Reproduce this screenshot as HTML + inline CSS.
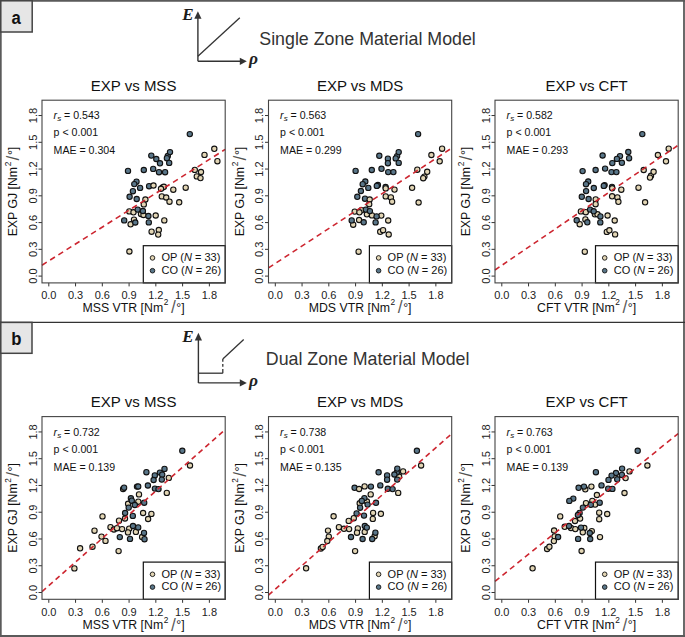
<!DOCTYPE html><html><head><meta charset="utf-8"><style>
html,body{margin:0;padding:0;background:#fff;}
svg{display:block;font-family:"Liberation Sans",sans-serif;}
.t{font-size:15px;fill:#111;}
.al{font-size:12.3px;fill:#111;}
.tk{font-size:11px;fill:#222;}
.st{font-size:10.6px;fill:#111;}
.lg{font-size:11px;fill:#111;}
.hd{font-size:17.8px;fill:#333;}
</style></head><body>
<svg width="685" height="637" viewBox="0 0 685 637">
<rect x="0" y="0" width="685" height="637" fill="#fff"/>
<text class="t" x="133.6" y="90.9" text-anchor="middle">EXP vs MSS</text>
<text class="al" transform="translate(17.4,191.55) rotate(-90)" text-anchor="middle">EXP GJ [Nm<tspan dy="-6.4" dx="0.6" font-size="8.3">2</tspan><tspan dy="6.4"> </tspan><tspan font-size="17.5" dy="1.7" dx="-2.2" fill-opacity="0.72">/</tspan><tspan dy="-1.7" dx="0.5">°]</tspan></text>
<text class="al" x="133.6" y="311.7" text-anchor="middle">MSS VTR [Nm<tspan dy="-6.4" dx="0.6" font-size="8.3">2</tspan><tspan dy="6.4"> </tspan><tspan font-size="17.5" dy="1.7" dx="-0.9" fill-opacity="0.72">/</tspan><tspan dy="-1.7" dx="0.5">°]</tspan></text>
<path d="M48.8 282.9V286.4M42 276.1H38.5M75.56 282.9V286.4M42 249.34H38.5M102.32 282.9V286.4M42 222.58H38.5M129.08 282.9V286.4M42 195.82H38.5M155.84 282.9V286.4M42 169.06H38.5M182.6 282.9V286.4M42 142.3H38.5M209.36 282.9V286.4M42 115.54H38.5" stroke="#333" stroke-width="1" fill="none"/>
<text class="tk" x="48.8" y="298.8" text-anchor="middle">0.0</text>
<text class="tk" transform="translate(36.9,276.1) rotate(-90)" text-anchor="middle">0.0</text>
<text class="tk" x="75.56" y="298.8" text-anchor="middle">0.3</text>
<text class="tk" transform="translate(36.9,249.34) rotate(-90)" text-anchor="middle">0.3</text>
<text class="tk" x="102.32" y="298.8" text-anchor="middle">0.6</text>
<text class="tk" transform="translate(36.9,222.58) rotate(-90)" text-anchor="middle">0.6</text>
<text class="tk" x="129.08" y="298.8" text-anchor="middle">0.9</text>
<text class="tk" transform="translate(36.9,195.82) rotate(-90)" text-anchor="middle">0.9</text>
<text class="tk" x="155.84" y="298.8" text-anchor="middle">1.2</text>
<text class="tk" transform="translate(36.9,169.06) rotate(-90)" text-anchor="middle">1.2</text>
<text class="tk" x="182.6" y="298.8" text-anchor="middle">1.5</text>
<text class="tk" transform="translate(36.9,142.3) rotate(-90)" text-anchor="middle">1.5</text>
<text class="tk" x="209.36" y="298.8" text-anchor="middle">1.8</text>
<text class="tk" transform="translate(36.9,115.54) rotate(-90)" text-anchor="middle">1.8</text>
<circle cx="167.8" cy="156" r="2.65" fill="#597689" stroke="#111" stroke-width="1.1"/>
<circle cx="162.5" cy="187.5" r="2.65" fill="#e2d5b4" stroke="#111" stroke-width="1.1"/>
<circle cx="141" cy="214" r="2.65" fill="#e2d5b4" stroke="#111" stroke-width="1.1"/>
<circle cx="143.5" cy="215" r="2.65" fill="#e2d5b4" stroke="#111" stroke-width="1.1"/>
<circle cx="134" cy="219.6" r="2.65" fill="#e2d5b4" stroke="#111" stroke-width="1.1"/>
<circle cx="151.3" cy="155.6" r="2.65" fill="#597689" stroke="#111" stroke-width="1.1"/>
<circle cx="156.3" cy="159" r="2.65" fill="#597689" stroke="#111" stroke-width="1.1"/>
<circle cx="160" cy="163.3" r="2.65" fill="#597689" stroke="#111" stroke-width="1.1"/>
<circle cx="170" cy="152.1" r="2.65" fill="#597689" stroke="#111" stroke-width="1.1"/>
<circle cx="166.9" cy="158.2" r="2.65" fill="#597689" stroke="#111" stroke-width="1.1"/>
<circle cx="169.2" cy="162.9" r="2.65" fill="#597689" stroke="#111" stroke-width="1.1"/>
<circle cx="128" cy="170.9" r="2.65" fill="#597689" stroke="#111" stroke-width="1.1"/>
<circle cx="143.8" cy="170" r="2.65" fill="#597689" stroke="#111" stroke-width="1.1"/>
<circle cx="153.2" cy="168.9" r="2.65" fill="#597689" stroke="#111" stroke-width="1.1"/>
<circle cx="159" cy="172.2" r="2.65" fill="#597689" stroke="#111" stroke-width="1.1"/>
<circle cx="165.1" cy="172.2" r="2.65" fill="#597689" stroke="#111" stroke-width="1.1"/>
<circle cx="136.5" cy="181.7" r="2.65" fill="#597689" stroke="#111" stroke-width="1.1"/>
<circle cx="134.3" cy="184.1" r="2.65" fill="#597689" stroke="#111" stroke-width="1.1"/>
<circle cx="140.1" cy="187.9" r="2.65" fill="#597689" stroke="#111" stroke-width="1.1"/>
<circle cx="149.1" cy="186.2" r="2.65" fill="#597689" stroke="#111" stroke-width="1.1"/>
<circle cx="132.9" cy="191.2" r="2.65" fill="#597689" stroke="#111" stroke-width="1.1"/>
<circle cx="129.6" cy="196.8" r="2.65" fill="#597689" stroke="#111" stroke-width="1.1"/>
<circle cx="136.7" cy="199" r="2.65" fill="#597689" stroke="#111" stroke-width="1.1"/>
<circle cx="189.8" cy="134.1" r="2.65" fill="#597689" stroke="#111" stroke-width="1.1"/>
<circle cx="153.5" cy="185.5" r="2.65" fill="#e2d5b4" stroke="#111" stroke-width="1.1"/>
<circle cx="163.9" cy="186.8" r="2.65" fill="#e2d5b4" stroke="#111" stroke-width="1.1"/>
<circle cx="161" cy="188.8" r="2.65" fill="#e2d5b4" stroke="#111" stroke-width="1.1"/>
<circle cx="161.8" cy="196.4" r="2.65" fill="#e2d5b4" stroke="#111" stroke-width="1.1"/>
<circle cx="166.2" cy="197.5" r="2.65" fill="#e2d5b4" stroke="#111" stroke-width="1.1"/>
<circle cx="169.5" cy="201.7" r="2.65" fill="#e2d5b4" stroke="#111" stroke-width="1.1"/>
<circle cx="145.4" cy="199.5" r="2.65" fill="#e2d5b4" stroke="#111" stroke-width="1.1"/>
<circle cx="143.8" cy="204.4" r="2.65" fill="#e2d5b4" stroke="#111" stroke-width="1.1"/>
<circle cx="173.3" cy="189.7" r="2.65" fill="#e2d5b4" stroke="#111" stroke-width="1.1"/>
<circle cx="214.3" cy="148.8" r="2.65" fill="#e2d5b4" stroke="#111" stroke-width="1.1"/>
<circle cx="204.5" cy="154.9" r="2.65" fill="#e2d5b4" stroke="#111" stroke-width="1.1"/>
<circle cx="217.4" cy="161.2" r="2.65" fill="#e2d5b4" stroke="#111" stroke-width="1.1"/>
<circle cx="194.8" cy="169.9" r="2.65" fill="#e2d5b4" stroke="#111" stroke-width="1.1"/>
<circle cx="201" cy="172" r="2.65" fill="#e2d5b4" stroke="#111" stroke-width="1.1"/>
<circle cx="196.8" cy="176.4" r="2.65" fill="#e2d5b4" stroke="#111" stroke-width="1.1"/>
<circle cx="200.5" cy="178.1" r="2.65" fill="#e2d5b4" stroke="#111" stroke-width="1.1"/>
<circle cx="129.3" cy="211.4" r="2.65" fill="#e2d5b4" stroke="#111" stroke-width="1.1"/>
<circle cx="133.5" cy="212.3" r="2.65" fill="#e2d5b4" stroke="#111" stroke-width="1.1"/>
<circle cx="155.7" cy="215.5" r="2.65" fill="#e2d5b4" stroke="#111" stroke-width="1.1"/>
<circle cx="130.6" cy="224.3" r="2.65" fill="#e2d5b4" stroke="#111" stroke-width="1.1"/>
<circle cx="164.3" cy="220.4" r="2.65" fill="#e2d5b4" stroke="#111" stroke-width="1.1"/>
<circle cx="151.6" cy="231.7" r="2.65" fill="#e2d5b4" stroke="#111" stroke-width="1.1"/>
<circle cx="158.8" cy="230" r="2.65" fill="#e2d5b4" stroke="#111" stroke-width="1.1"/>
<circle cx="158.2" cy="234.6" r="2.65" fill="#e2d5b4" stroke="#111" stroke-width="1.1"/>
<circle cx="129.4" cy="251.5" r="2.65" fill="#e2d5b4" stroke="#111" stroke-width="1.1"/>
<circle cx="185.7" cy="187.7" r="2.65" fill="#e2d5b4" stroke="#111" stroke-width="1.1"/>
<circle cx="179.2" cy="202.3" r="2.65" fill="#e2d5b4" stroke="#111" stroke-width="1.1"/>
<circle cx="137.7" cy="209.6" r="2.65" fill="#597689" stroke="#111" stroke-width="1.1"/>
<circle cx="142.9" cy="211" r="2.65" fill="#597689" stroke="#111" stroke-width="1.1"/>
<circle cx="148.4" cy="216" r="2.65" fill="#597689" stroke="#111" stroke-width="1.1"/>
<circle cx="124.2" cy="220.4" r="2.65" fill="#597689" stroke="#111" stroke-width="1.1"/>
<circle cx="135.3" cy="222.5" r="2.65" fill="#597689" stroke="#111" stroke-width="1.1"/>
<circle cx="148.8" cy="222.4" r="2.65" fill="#597689" stroke="#111" stroke-width="1.1"/>
<line x1="42" y1="265.2" x2="225.2" y2="149.4" stroke="#cd2630" stroke-width="1.6" stroke-dasharray="5.62 4.07"/>
<rect x="143.3" y="245.7" width="81.9" height="37.2" fill="#fff" stroke="#111" stroke-width="1.2"/>
<circle cx="152.5" cy="257.9" r="2.3" fill="#e2d5b4" stroke="#111" stroke-width="0.9"/>
<circle cx="152.5" cy="270.7" r="2.3" fill="#597689" stroke="#111" stroke-width="0.9"/>
<text class="lg" x="161.5" y="261.2">OP (<tspan font-style="italic">N</tspan> = 33)</text>
<text class="lg" x="161.5" y="273.7">CO (<tspan font-style="italic">N</tspan> = 26)</text>
<text class="st" x="53.6" y="118.7"><tspan font-style="italic">r</tspan><tspan font-style="italic" font-size="8" dy="2.3">s</tspan><tspan dy="-2.3"> = 0.543</tspan></text>
<text class="st" x="53.6" y="135.6">p &lt; 0.001</text>
<text class="st" x="53.6" y="154">MAE = 0.304</text>
<rect x="42" y="100.2" width="183.2" height="182.7" fill="none" stroke="#444" stroke-width="1.1"/>
<text class="t" x="360.1" y="90.9" text-anchor="middle">EXP vs MDS</text>
<text class="al" transform="translate(243.9,191.55) rotate(-90)" text-anchor="middle">EXP GJ [Nm<tspan dy="-6.4" dx="0.6" font-size="8.3">2</tspan><tspan dy="6.4"> </tspan><tspan font-size="17.5" dy="1.7" dx="-2.2" fill-opacity="0.72">/</tspan><tspan dy="-1.7" dx="0.5">°]</tspan></text>
<text class="al" x="360.1" y="311.7" text-anchor="middle">MDS VTR [Nm<tspan dy="-6.4" dx="0.6" font-size="8.3">2</tspan><tspan dy="6.4"> </tspan><tspan font-size="17.5" dy="1.7" dx="-0.9" fill-opacity="0.72">/</tspan><tspan dy="-1.7" dx="0.5">°]</tspan></text>
<path d="M275.3 282.9V286.4M268.5 276.1H265M302.06 282.9V286.4M268.5 249.34H265M328.82 282.9V286.4M268.5 222.58H265M355.58 282.9V286.4M268.5 195.82H265M382.34 282.9V286.4M268.5 169.06H265M409.1 282.9V286.4M268.5 142.3H265M435.86 282.9V286.4M268.5 115.54H265" stroke="#333" stroke-width="1" fill="none"/>
<text class="tk" x="275.3" y="298.8" text-anchor="middle">0.0</text>
<text class="tk" transform="translate(263.4,276.1) rotate(-90)" text-anchor="middle">0.0</text>
<text class="tk" x="302.06" y="298.8" text-anchor="middle">0.3</text>
<text class="tk" transform="translate(263.4,249.34) rotate(-90)" text-anchor="middle">0.3</text>
<text class="tk" x="328.82" y="298.8" text-anchor="middle">0.6</text>
<text class="tk" transform="translate(263.4,222.58) rotate(-90)" text-anchor="middle">0.6</text>
<text class="tk" x="355.58" y="298.8" text-anchor="middle">0.9</text>
<text class="tk" transform="translate(263.4,195.82) rotate(-90)" text-anchor="middle">0.9</text>
<text class="tk" x="382.34" y="298.8" text-anchor="middle">1.2</text>
<text class="tk" transform="translate(263.4,169.06) rotate(-90)" text-anchor="middle">1.2</text>
<text class="tk" x="409.1" y="298.8" text-anchor="middle">1.5</text>
<text class="tk" transform="translate(263.4,142.3) rotate(-90)" text-anchor="middle">1.5</text>
<text class="tk" x="435.86" y="298.8" text-anchor="middle">1.8</text>
<text class="tk" transform="translate(263.4,115.54) rotate(-90)" text-anchor="middle">1.8</text>
<circle cx="397.1" cy="156.1" r="2.65" fill="#597689" stroke="#111" stroke-width="1.1"/>
<circle cx="385.6" cy="187" r="2.65" fill="#597689" stroke="#111" stroke-width="1.1"/>
<circle cx="377.9" cy="185" r="2.65" fill="#597689" stroke="#111" stroke-width="1.1"/>
<circle cx="361.4" cy="210.2" r="2.65" fill="#e2d5b4" stroke="#111" stroke-width="1.1"/>
<circle cx="366.9" cy="214.3" r="2.65" fill="#e2d5b4" stroke="#111" stroke-width="1.1"/>
<circle cx="424.4" cy="176.6" r="2.65" fill="#e2d5b4" stroke="#111" stroke-width="1.1"/>
<circle cx="379.3" cy="155.8" r="2.65" fill="#597689" stroke="#111" stroke-width="1.1"/>
<circle cx="387.9" cy="158.7" r="2.65" fill="#597689" stroke="#111" stroke-width="1.1"/>
<circle cx="387.9" cy="163.2" r="2.65" fill="#597689" stroke="#111" stroke-width="1.1"/>
<circle cx="398.7" cy="152.1" r="2.65" fill="#597689" stroke="#111" stroke-width="1.1"/>
<circle cx="395.7" cy="158.4" r="2.65" fill="#597689" stroke="#111" stroke-width="1.1"/>
<circle cx="398.7" cy="162.9" r="2.65" fill="#597689" stroke="#111" stroke-width="1.1"/>
<circle cx="355.6" cy="170.9" r="2.65" fill="#597689" stroke="#111" stroke-width="1.1"/>
<circle cx="371.8" cy="170" r="2.65" fill="#597689" stroke="#111" stroke-width="1.1"/>
<circle cx="381.5" cy="168.8" r="2.65" fill="#597689" stroke="#111" stroke-width="1.1"/>
<circle cx="388.2" cy="172.1" r="2.65" fill="#597689" stroke="#111" stroke-width="1.1"/>
<circle cx="393.4" cy="172.1" r="2.65" fill="#597689" stroke="#111" stroke-width="1.1"/>
<circle cx="365.3" cy="181.5" r="2.65" fill="#597689" stroke="#111" stroke-width="1.1"/>
<circle cx="362.7" cy="184.2" r="2.65" fill="#597689" stroke="#111" stroke-width="1.1"/>
<circle cx="368.3" cy="187.9" r="2.65" fill="#597689" stroke="#111" stroke-width="1.1"/>
<circle cx="376.8" cy="185.9" r="2.65" fill="#597689" stroke="#111" stroke-width="1.1"/>
<circle cx="360.9" cy="191" r="2.65" fill="#597689" stroke="#111" stroke-width="1.1"/>
<circle cx="357.3" cy="196.8" r="2.65" fill="#597689" stroke="#111" stroke-width="1.1"/>
<circle cx="365" cy="198.7" r="2.65" fill="#597689" stroke="#111" stroke-width="1.1"/>
<circle cx="418.1" cy="134.1" r="2.65" fill="#597689" stroke="#111" stroke-width="1.1"/>
<circle cx="385.7" cy="188.4" r="2.65" fill="#e2d5b4" stroke="#111" stroke-width="1.1"/>
<circle cx="394.5" cy="189.6" r="2.65" fill="#e2d5b4" stroke="#111" stroke-width="1.1"/>
<circle cx="385.7" cy="196.4" r="2.65" fill="#e2d5b4" stroke="#111" stroke-width="1.1"/>
<circle cx="390.9" cy="197.4" r="2.65" fill="#e2d5b4" stroke="#111" stroke-width="1.1"/>
<circle cx="392.1" cy="201.7" r="2.65" fill="#e2d5b4" stroke="#111" stroke-width="1.1"/>
<circle cx="369.7" cy="199.5" r="2.65" fill="#e2d5b4" stroke="#111" stroke-width="1.1"/>
<circle cx="369.2" cy="204.2" r="2.65" fill="#e2d5b4" stroke="#111" stroke-width="1.1"/>
<circle cx="354.7" cy="211.6" r="2.65" fill="#e2d5b4" stroke="#111" stroke-width="1.1"/>
<circle cx="359.4" cy="212.3" r="2.65" fill="#e2d5b4" stroke="#111" stroke-width="1.1"/>
<circle cx="372" cy="215.4" r="2.65" fill="#e2d5b4" stroke="#111" stroke-width="1.1"/>
<circle cx="381.3" cy="215.6" r="2.65" fill="#e2d5b4" stroke="#111" stroke-width="1.1"/>
<circle cx="359.1" cy="220" r="2.65" fill="#e2d5b4" stroke="#111" stroke-width="1.1"/>
<circle cx="353.2" cy="224.7" r="2.65" fill="#e2d5b4" stroke="#111" stroke-width="1.1"/>
<circle cx="388.2" cy="220.5" r="2.65" fill="#e2d5b4" stroke="#111" stroke-width="1.1"/>
<circle cx="380.2" cy="231.8" r="2.65" fill="#e2d5b4" stroke="#111" stroke-width="1.1"/>
<circle cx="383.1" cy="230.2" r="2.65" fill="#e2d5b4" stroke="#111" stroke-width="1.1"/>
<circle cx="388.7" cy="234.5" r="2.65" fill="#e2d5b4" stroke="#111" stroke-width="1.1"/>
<circle cx="358.6" cy="251.7" r="2.65" fill="#e2d5b4" stroke="#111" stroke-width="1.1"/>
<circle cx="412.1" cy="187.8" r="2.65" fill="#e2d5b4" stroke="#111" stroke-width="1.1"/>
<circle cx="418.6" cy="202.5" r="2.65" fill="#e2d5b4" stroke="#111" stroke-width="1.1"/>
<circle cx="442.1" cy="148.7" r="2.65" fill="#e2d5b4" stroke="#111" stroke-width="1.1"/>
<circle cx="431.4" cy="155" r="2.65" fill="#e2d5b4" stroke="#111" stroke-width="1.1"/>
<circle cx="439.7" cy="161.3" r="2.65" fill="#e2d5b4" stroke="#111" stroke-width="1.1"/>
<circle cx="417.3" cy="169.7" r="2.65" fill="#e2d5b4" stroke="#111" stroke-width="1.1"/>
<circle cx="427.2" cy="171.8" r="2.65" fill="#e2d5b4" stroke="#111" stroke-width="1.1"/>
<circle cx="423.2" cy="178.2" r="2.65" fill="#e2d5b4" stroke="#111" stroke-width="1.1"/>
<circle cx="365.8" cy="209.6" r="2.65" fill="#597689" stroke="#111" stroke-width="1.1"/>
<circle cx="369.9" cy="211.1" r="2.65" fill="#597689" stroke="#111" stroke-width="1.1"/>
<circle cx="376.6" cy="216.4" r="2.65" fill="#597689" stroke="#111" stroke-width="1.1"/>
<circle cx="351.7" cy="220.4" r="2.65" fill="#597689" stroke="#111" stroke-width="1.1"/>
<circle cx="363.7" cy="222.3" r="2.65" fill="#597689" stroke="#111" stroke-width="1.1"/>
<circle cx="375.6" cy="222.4" r="2.65" fill="#597689" stroke="#111" stroke-width="1.1"/>
<line x1="268.5" y1="267.9" x2="451.7" y2="148.1" stroke="#cd2630" stroke-width="1.6" stroke-dasharray="5.57 4.03"/>
<rect x="369.4" y="245.7" width="82.3" height="37.2" fill="#fff" stroke="#111" stroke-width="1.2"/>
<circle cx="378.6" cy="257.9" r="2.3" fill="#e2d5b4" stroke="#111" stroke-width="0.9"/>
<circle cx="378.6" cy="270.7" r="2.3" fill="#597689" stroke="#111" stroke-width="0.9"/>
<text class="lg" x="387.6" y="261.2">OP (<tspan font-style="italic">N</tspan> = 33)</text>
<text class="lg" x="387.6" y="273.7">CO (<tspan font-style="italic">N</tspan> = 26)</text>
<text class="st" x="280.1" y="118.7"><tspan font-style="italic">r</tspan><tspan font-style="italic" font-size="8" dy="2.3">s</tspan><tspan dy="-2.3"> = 0.563</tspan></text>
<text class="st" x="280.1" y="135.6">p &lt; 0.001</text>
<text class="st" x="280.1" y="154">MAE = 0.299</text>
<rect x="268.5" y="100.2" width="183.2" height="182.7" fill="none" stroke="#444" stroke-width="1.1"/>
<text class="t" x="586.6" y="90.9" text-anchor="middle">EXP vs CFT</text>
<text class="al" transform="translate(470.4,191.55) rotate(-90)" text-anchor="middle">EXP GJ [Nm<tspan dy="-6.4" dx="0.6" font-size="8.3">2</tspan><tspan dy="6.4"> </tspan><tspan font-size="17.5" dy="1.7" dx="-2.2" fill-opacity="0.72">/</tspan><tspan dy="-1.7" dx="0.5">°]</tspan></text>
<text class="al" x="586.6" y="311.7" text-anchor="middle">CFT VTR [Nm<tspan dy="-6.4" dx="0.6" font-size="8.3">2</tspan><tspan dy="6.4"> </tspan><tspan font-size="17.5" dy="1.7" dx="-0.9" fill-opacity="0.72">/</tspan><tspan dy="-1.7" dx="0.5">°]</tspan></text>
<path d="M501.8 282.9V286.4M495 276.1H491.5M528.56 282.9V286.4M495 249.34H491.5M555.32 282.9V286.4M495 222.58H491.5M582.08 282.9V286.4M495 195.82H491.5M608.84 282.9V286.4M495 169.06H491.5M635.6 282.9V286.4M495 142.3H491.5M662.36 282.9V286.4M495 115.54H491.5" stroke="#333" stroke-width="1" fill="none"/>
<text class="tk" x="501.8" y="298.8" text-anchor="middle">0.0</text>
<text class="tk" transform="translate(489.9,276.1) rotate(-90)" text-anchor="middle">0.0</text>
<text class="tk" x="528.56" y="298.8" text-anchor="middle">0.3</text>
<text class="tk" transform="translate(489.9,249.34) rotate(-90)" text-anchor="middle">0.3</text>
<text class="tk" x="555.32" y="298.8" text-anchor="middle">0.6</text>
<text class="tk" transform="translate(489.9,222.58) rotate(-90)" text-anchor="middle">0.6</text>
<text class="tk" x="582.08" y="298.8" text-anchor="middle">0.9</text>
<text class="tk" transform="translate(489.9,195.82) rotate(-90)" text-anchor="middle">0.9</text>
<text class="tk" x="608.84" y="298.8" text-anchor="middle">1.2</text>
<text class="tk" transform="translate(489.9,169.06) rotate(-90)" text-anchor="middle">1.2</text>
<text class="tk" x="635.6" y="298.8" text-anchor="middle">1.5</text>
<text class="tk" transform="translate(489.9,142.3) rotate(-90)" text-anchor="middle">1.5</text>
<text class="tk" x="662.36" y="298.8" text-anchor="middle">1.8</text>
<text class="tk" transform="translate(489.9,115.54) rotate(-90)" text-anchor="middle">1.8</text>
<circle cx="612" cy="186.9" r="2.65" fill="#597689" stroke="#111" stroke-width="1.1"/>
<circle cx="604.6" cy="185.1" r="2.65" fill="#597689" stroke="#111" stroke-width="1.1"/>
<circle cx="594.9" cy="214.3" r="2.65" fill="#e2d5b4" stroke="#111" stroke-width="1.1"/>
<circle cx="597.5" cy="214.3" r="2.65" fill="#e2d5b4" stroke="#111" stroke-width="1.1"/>
<circle cx="585.4" cy="219.4" r="2.65" fill="#e2d5b4" stroke="#111" stroke-width="1.1"/>
<circle cx="651" cy="175.8" r="2.65" fill="#e2d5b4" stroke="#111" stroke-width="1.1"/>
<circle cx="602.6" cy="155.5" r="2.65" fill="#597689" stroke="#111" stroke-width="1.1"/>
<circle cx="620" cy="156.1" r="2.65" fill="#597689" stroke="#111" stroke-width="1.1"/>
<circle cx="616.9" cy="158.9" r="2.65" fill="#597689" stroke="#111" stroke-width="1.1"/>
<circle cx="612.3" cy="163.1" r="2.65" fill="#597689" stroke="#111" stroke-width="1.1"/>
<circle cx="621.9" cy="162.8" r="2.65" fill="#597689" stroke="#111" stroke-width="1.1"/>
<circle cx="628.3" cy="152" r="2.65" fill="#597689" stroke="#111" stroke-width="1.1"/>
<circle cx="629.1" cy="158.2" r="2.65" fill="#597689" stroke="#111" stroke-width="1.1"/>
<circle cx="582.6" cy="171.1" r="2.65" fill="#597689" stroke="#111" stroke-width="1.1"/>
<circle cx="595.6" cy="170" r="2.65" fill="#597689" stroke="#111" stroke-width="1.1"/>
<circle cx="605.1" cy="168.6" r="2.65" fill="#597689" stroke="#111" stroke-width="1.1"/>
<circle cx="611.5" cy="172.1" r="2.65" fill="#597689" stroke="#111" stroke-width="1.1"/>
<circle cx="616.4" cy="172.1" r="2.65" fill="#597689" stroke="#111" stroke-width="1.1"/>
<circle cx="588.2" cy="181.5" r="2.65" fill="#597689" stroke="#111" stroke-width="1.1"/>
<circle cx="586" cy="184.2" r="2.65" fill="#597689" stroke="#111" stroke-width="1.1"/>
<circle cx="593.8" cy="188" r="2.65" fill="#597689" stroke="#111" stroke-width="1.1"/>
<circle cx="603.8" cy="185.9" r="2.65" fill="#597689" stroke="#111" stroke-width="1.1"/>
<circle cx="586.1" cy="191.1" r="2.65" fill="#597689" stroke="#111" stroke-width="1.1"/>
<circle cx="581.8" cy="196.8" r="2.65" fill="#597689" stroke="#111" stroke-width="1.1"/>
<circle cx="588.6" cy="199" r="2.65" fill="#597689" stroke="#111" stroke-width="1.1"/>
<circle cx="642.3" cy="134.1" r="2.65" fill="#597689" stroke="#111" stroke-width="1.1"/>
<circle cx="612.2" cy="188.3" r="2.65" fill="#e2d5b4" stroke="#111" stroke-width="1.1"/>
<circle cx="621.3" cy="189.7" r="2.65" fill="#e2d5b4" stroke="#111" stroke-width="1.1"/>
<circle cx="612.1" cy="196.3" r="2.65" fill="#e2d5b4" stroke="#111" stroke-width="1.1"/>
<circle cx="617.4" cy="197.4" r="2.65" fill="#e2d5b4" stroke="#111" stroke-width="1.1"/>
<circle cx="618.4" cy="201.8" r="2.65" fill="#e2d5b4" stroke="#111" stroke-width="1.1"/>
<circle cx="595.7" cy="199.4" r="2.65" fill="#e2d5b4" stroke="#111" stroke-width="1.1"/>
<circle cx="595.6" cy="204.2" r="2.65" fill="#e2d5b4" stroke="#111" stroke-width="1.1"/>
<circle cx="580.9" cy="211.4" r="2.65" fill="#e2d5b4" stroke="#111" stroke-width="1.1"/>
<circle cx="585.8" cy="212.2" r="2.65" fill="#e2d5b4" stroke="#111" stroke-width="1.1"/>
<circle cx="607.6" cy="215.5" r="2.65" fill="#e2d5b4" stroke="#111" stroke-width="1.1"/>
<circle cx="579.7" cy="224.2" r="2.65" fill="#e2d5b4" stroke="#111" stroke-width="1.1"/>
<circle cx="614.7" cy="220.5" r="2.65" fill="#e2d5b4" stroke="#111" stroke-width="1.1"/>
<circle cx="606.8" cy="231.9" r="2.65" fill="#e2d5b4" stroke="#111" stroke-width="1.1"/>
<circle cx="609.4" cy="230.3" r="2.65" fill="#e2d5b4" stroke="#111" stroke-width="1.1"/>
<circle cx="615.1" cy="234.4" r="2.65" fill="#e2d5b4" stroke="#111" stroke-width="1.1"/>
<circle cx="584.8" cy="251.7" r="2.65" fill="#e2d5b4" stroke="#111" stroke-width="1.1"/>
<circle cx="638.5" cy="187.7" r="2.65" fill="#e2d5b4" stroke="#111" stroke-width="1.1"/>
<circle cx="645.1" cy="202.3" r="2.65" fill="#e2d5b4" stroke="#111" stroke-width="1.1"/>
<circle cx="668.7" cy="148.7" r="2.65" fill="#e2d5b4" stroke="#111" stroke-width="1.1"/>
<circle cx="657.9" cy="155" r="2.65" fill="#e2d5b4" stroke="#111" stroke-width="1.1"/>
<circle cx="666" cy="161.3" r="2.65" fill="#e2d5b4" stroke="#111" stroke-width="1.1"/>
<circle cx="643.7" cy="170" r="2.65" fill="#e2d5b4" stroke="#111" stroke-width="1.1"/>
<circle cx="653.6" cy="171.8" r="2.65" fill="#e2d5b4" stroke="#111" stroke-width="1.1"/>
<circle cx="650" cy="177.6" r="2.65" fill="#e2d5b4" stroke="#111" stroke-width="1.1"/>
<circle cx="590.1" cy="209.6" r="2.65" fill="#597689" stroke="#111" stroke-width="1.1"/>
<circle cx="593.7" cy="211.3" r="2.65" fill="#597689" stroke="#111" stroke-width="1.1"/>
<circle cx="600.4" cy="216.4" r="2.65" fill="#597689" stroke="#111" stroke-width="1.1"/>
<circle cx="576.7" cy="220.3" r="2.65" fill="#597689" stroke="#111" stroke-width="1.1"/>
<circle cx="587.3" cy="222.3" r="2.65" fill="#597689" stroke="#111" stroke-width="1.1"/>
<circle cx="600.3" cy="222.4" r="2.65" fill="#597689" stroke="#111" stroke-width="1.1"/>
<line x1="495" y1="270" x2="678.2" y2="145.2" stroke="#cd2630" stroke-width="1.6" stroke-dasharray="5.43 3.93"/>
<rect x="595.5" y="245.7" width="82.7" height="37.2" fill="#fff" stroke="#111" stroke-width="1.2"/>
<circle cx="604.7" cy="257.9" r="2.3" fill="#e2d5b4" stroke="#111" stroke-width="0.9"/>
<circle cx="604.7" cy="270.7" r="2.3" fill="#597689" stroke="#111" stroke-width="0.9"/>
<text class="lg" x="613.7" y="261.2">OP (<tspan font-style="italic">N</tspan> = 33)</text>
<text class="lg" x="613.7" y="273.7">CO (<tspan font-style="italic">N</tspan> = 26)</text>
<text class="st" x="506.6" y="118.7"><tspan font-style="italic">r</tspan><tspan font-style="italic" font-size="8" dy="2.3">s</tspan><tspan dy="-2.3"> = 0.582</tspan></text>
<text class="st" x="506.6" y="135.6">p &lt; 0.001</text>
<text class="st" x="506.6" y="154">MAE = 0.293</text>
<rect x="495" y="100.2" width="183.2" height="182.7" fill="none" stroke="#444" stroke-width="1.1"/>
<text class="t" x="133.6" y="407.3" text-anchor="middle">EXP vs MSS</text>
<text class="al" transform="translate(17.4,507.95) rotate(-90)" text-anchor="middle">EXP GJ [Nm<tspan dy="-6.4" dx="0.6" font-size="8.3">2</tspan><tspan dy="6.4"> </tspan><tspan font-size="17.5" dy="1.7" dx="-2.2" fill-opacity="0.72">/</tspan><tspan dy="-1.7" dx="0.5">°]</tspan></text>
<text class="al" x="133.6" y="629" text-anchor="middle">MSS VTR [Nm<tspan dy="-6.4" dx="0.6" font-size="8.3">2</tspan><tspan dy="6.4"> </tspan><tspan font-size="17.5" dy="1.7" dx="-0.9" fill-opacity="0.72">/</tspan><tspan dy="-1.7" dx="0.5">°]</tspan></text>
<path d="M48.8 599.3V602.8M42 592.5H38.5M75.56 599.3V602.8M42 565.74H38.5M102.32 599.3V602.8M42 538.98H38.5M129.08 599.3V602.8M42 512.22H38.5M155.84 599.3V602.8M42 485.46H38.5M182.6 599.3V602.8M42 458.7H38.5M209.36 599.3V602.8M42 431.94H38.5" stroke="#333" stroke-width="1" fill="none"/>
<text class="tk" x="48.8" y="615.6" text-anchor="middle">0.0</text>
<text class="tk" transform="translate(36.9,592.5) rotate(-90)" text-anchor="middle">0.0</text>
<text class="tk" x="75.56" y="615.6" text-anchor="middle">0.3</text>
<text class="tk" transform="translate(36.9,565.74) rotate(-90)" text-anchor="middle">0.3</text>
<text class="tk" x="102.32" y="615.6" text-anchor="middle">0.6</text>
<text class="tk" transform="translate(36.9,538.98) rotate(-90)" text-anchor="middle">0.6</text>
<text class="tk" x="129.08" y="615.6" text-anchor="middle">0.9</text>
<text class="tk" transform="translate(36.9,512.22) rotate(-90)" text-anchor="middle">0.9</text>
<text class="tk" x="155.84" y="615.6" text-anchor="middle">1.2</text>
<text class="tk" transform="translate(36.9,485.46) rotate(-90)" text-anchor="middle">1.2</text>
<text class="tk" x="182.6" y="615.6" text-anchor="middle">1.5</text>
<text class="tk" transform="translate(36.9,458.7) rotate(-90)" text-anchor="middle">1.5</text>
<text class="tk" x="209.36" y="615.6" text-anchor="middle">1.8</text>
<text class="tk" transform="translate(36.9,431.94) rotate(-90)" text-anchor="middle">1.8</text>
<circle cx="123.1" cy="489" r="2.65" fill="#e2d5b4" stroke="#111" stroke-width="1.1"/>
<circle cx="137" cy="486.6" r="2.65" fill="#e2d5b4" stroke="#111" stroke-width="1.1"/>
<circle cx="159.9" cy="472.6" r="2.65" fill="#597689" stroke="#111" stroke-width="1.1"/>
<circle cx="182.3" cy="450.8" r="2.65" fill="#597689" stroke="#111" stroke-width="1.1"/>
<circle cx="164.5" cy="468.9" r="2.65" fill="#597689" stroke="#111" stroke-width="1.1"/>
<circle cx="162.2" cy="474.7" r="2.65" fill="#597689" stroke="#111" stroke-width="1.1"/>
<circle cx="154.8" cy="475.4" r="2.65" fill="#597689" stroke="#111" stroke-width="1.1"/>
<circle cx="153.6" cy="480" r="2.65" fill="#597689" stroke="#111" stroke-width="1.1"/>
<circle cx="161.8" cy="479.6" r="2.65" fill="#597689" stroke="#111" stroke-width="1.1"/>
<circle cx="146.4" cy="472.2" r="2.65" fill="#597689" stroke="#111" stroke-width="1.1"/>
<circle cx="154.9" cy="488.6" r="2.65" fill="#597689" stroke="#111" stroke-width="1.1"/>
<circle cx="158.5" cy="489.1" r="2.65" fill="#597689" stroke="#111" stroke-width="1.1"/>
<circle cx="147.9" cy="485.5" r="2.65" fill="#597689" stroke="#111" stroke-width="1.1"/>
<circle cx="138.2" cy="486.5" r="2.65" fill="#597689" stroke="#111" stroke-width="1.1"/>
<circle cx="124.1" cy="487.7" r="2.65" fill="#597689" stroke="#111" stroke-width="1.1"/>
<circle cx="190" cy="465.5" r="2.65" fill="#e2d5b4" stroke="#111" stroke-width="1.1"/>
<circle cx="168.8" cy="477.9" r="2.65" fill="#e2d5b4" stroke="#111" stroke-width="1.1"/>
<circle cx="166.8" cy="492.9" r="2.65" fill="#e2d5b4" stroke="#111" stroke-width="1.1"/>
<circle cx="139" cy="494.4" r="2.65" fill="#e2d5b4" stroke="#111" stroke-width="1.1"/>
<circle cx="138.3" cy="501.7" r="2.65" fill="#e2d5b4" stroke="#111" stroke-width="1.1"/>
<circle cx="128.1" cy="503.8" r="2.65" fill="#e2d5b4" stroke="#111" stroke-width="1.1"/>
<circle cx="143.1" cy="513" r="2.65" fill="#e2d5b4" stroke="#111" stroke-width="1.1"/>
<circle cx="151.4" cy="513.9" r="2.65" fill="#e2d5b4" stroke="#111" stroke-width="1.1"/>
<circle cx="148.1" cy="519" r="2.65" fill="#e2d5b4" stroke="#111" stroke-width="1.1"/>
<circle cx="125" cy="518.5" r="2.65" fill="#e2d5b4" stroke="#111" stroke-width="1.1"/>
<circle cx="119" cy="520.7" r="2.65" fill="#e2d5b4" stroke="#111" stroke-width="1.1"/>
<circle cx="102.5" cy="516.4" r="2.65" fill="#e2d5b4" stroke="#111" stroke-width="1.1"/>
<circle cx="110.5" cy="527.2" r="2.65" fill="#e2d5b4" stroke="#111" stroke-width="1.1"/>
<circle cx="113.9" cy="529.5" r="2.65" fill="#e2d5b4" stroke="#111" stroke-width="1.1"/>
<circle cx="117" cy="528.2" r="2.65" fill="#e2d5b4" stroke="#111" stroke-width="1.1"/>
<circle cx="122.1" cy="529.1" r="2.65" fill="#e2d5b4" stroke="#111" stroke-width="1.1"/>
<circle cx="129.2" cy="528.7" r="2.65" fill="#e2d5b4" stroke="#111" stroke-width="1.1"/>
<circle cx="128" cy="532.4" r="2.65" fill="#e2d5b4" stroke="#111" stroke-width="1.1"/>
<circle cx="135.9" cy="531.9" r="2.65" fill="#e2d5b4" stroke="#111" stroke-width="1.1"/>
<circle cx="142.1" cy="537" r="2.65" fill="#e2d5b4" stroke="#111" stroke-width="1.1"/>
<circle cx="118.6" cy="551.1" r="2.65" fill="#e2d5b4" stroke="#111" stroke-width="1.1"/>
<circle cx="94.5" cy="530.7" r="2.65" fill="#e2d5b4" stroke="#111" stroke-width="1.1"/>
<circle cx="101.5" cy="536.6" r="2.65" fill="#e2d5b4" stroke="#111" stroke-width="1.1"/>
<circle cx="105.5" cy="540.9" r="2.65" fill="#e2d5b4" stroke="#111" stroke-width="1.1"/>
<circle cx="80.1" cy="548.3" r="2.65" fill="#e2d5b4" stroke="#111" stroke-width="1.1"/>
<circle cx="92.5" cy="546.7" r="2.65" fill="#e2d5b4" stroke="#111" stroke-width="1.1"/>
<circle cx="74.4" cy="568.4" r="2.65" fill="#e2d5b4" stroke="#111" stroke-width="1.1"/>
<circle cx="130.9" cy="498.3" r="2.65" fill="#597689" stroke="#111" stroke-width="1.1"/>
<circle cx="131.8" cy="500.7" r="2.65" fill="#597689" stroke="#111" stroke-width="1.1"/>
<circle cx="144.2" cy="502.7" r="2.65" fill="#597689" stroke="#111" stroke-width="1.1"/>
<circle cx="134.8" cy="505" r="2.65" fill="#597689" stroke="#111" stroke-width="1.1"/>
<circle cx="128.7" cy="507.6" r="2.65" fill="#597689" stroke="#111" stroke-width="1.1"/>
<circle cx="125.1" cy="513" r="2.65" fill="#597689" stroke="#111" stroke-width="1.1"/>
<circle cx="132.8" cy="515.9" r="2.65" fill="#597689" stroke="#111" stroke-width="1.1"/>
<circle cx="133" cy="526" r="2.65" fill="#597689" stroke="#111" stroke-width="1.1"/>
<circle cx="138.2" cy="527.4" r="2.65" fill="#597689" stroke="#111" stroke-width="1.1"/>
<circle cx="144" cy="532.9" r="2.65" fill="#597689" stroke="#111" stroke-width="1.1"/>
<circle cx="144.5" cy="539.2" r="2.65" fill="#597689" stroke="#111" stroke-width="1.1"/>
<circle cx="119.8" cy="537.1" r="2.65" fill="#597689" stroke="#111" stroke-width="1.1"/>
<circle cx="130" cy="538.9" r="2.65" fill="#597689" stroke="#111" stroke-width="1.1"/>
<line x1="42" y1="591.7" x2="225.2" y2="429.5" stroke="#cd2630" stroke-width="1.6" stroke-dasharray="5.27 3.82"/>
<rect x="143.3" y="562.1" width="81.9" height="37.2" fill="#fff" stroke="#111" stroke-width="1.2"/>
<circle cx="152.5" cy="574.3" r="2.3" fill="#e2d5b4" stroke="#111" stroke-width="0.9"/>
<circle cx="152.5" cy="587.1" r="2.3" fill="#597689" stroke="#111" stroke-width="0.9"/>
<text class="lg" x="161.5" y="577.6">OP (<tspan font-style="italic">N</tspan> = 33)</text>
<text class="lg" x="161.5" y="590.1">CO (<tspan font-style="italic">N</tspan> = 26)</text>
<text class="st" x="53.6" y="436.1"><tspan font-style="italic">r</tspan><tspan font-style="italic" font-size="8" dy="2.3">s</tspan><tspan dy="-2.3"> = 0.732</tspan></text>
<text class="st" x="53.6" y="453">p &lt; 0.001</text>
<text class="st" x="53.6" y="471.4">MAE = 0.139</text>
<rect x="42" y="416.6" width="183.2" height="182.7" fill="none" stroke="#444" stroke-width="1.1"/>
<text class="t" x="360.1" y="407.3" text-anchor="middle">EXP vs MDS</text>
<text class="al" transform="translate(243.9,507.95) rotate(-90)" text-anchor="middle">EXP GJ [Nm<tspan dy="-6.4" dx="0.6" font-size="8.3">2</tspan><tspan dy="6.4"> </tspan><tspan font-size="17.5" dy="1.7" dx="-2.2" fill-opacity="0.72">/</tspan><tspan dy="-1.7" dx="0.5">°]</tspan></text>
<text class="al" x="360.1" y="629" text-anchor="middle">MDS VTR [Nm<tspan dy="-6.4" dx="0.6" font-size="8.3">2</tspan><tspan dy="6.4"> </tspan><tspan font-size="17.5" dy="1.7" dx="-0.9" fill-opacity="0.72">/</tspan><tspan dy="-1.7" dx="0.5">°]</tspan></text>
<path d="M275.3 599.3V602.8M268.5 592.5H265M302.06 599.3V602.8M268.5 565.74H265M328.82 599.3V602.8M268.5 538.98H265M355.58 599.3V602.8M268.5 512.22H265M382.34 599.3V602.8M268.5 485.46H265M409.1 599.3V602.8M268.5 458.7H265M435.86 599.3V602.8M268.5 431.94H265" stroke="#333" stroke-width="1" fill="none"/>
<text class="tk" x="275.3" y="615.6" text-anchor="middle">0.0</text>
<text class="tk" transform="translate(263.4,592.5) rotate(-90)" text-anchor="middle">0.0</text>
<text class="tk" x="302.06" y="615.6" text-anchor="middle">0.3</text>
<text class="tk" transform="translate(263.4,565.74) rotate(-90)" text-anchor="middle">0.3</text>
<text class="tk" x="328.82" y="615.6" text-anchor="middle">0.6</text>
<text class="tk" transform="translate(263.4,538.98) rotate(-90)" text-anchor="middle">0.6</text>
<text class="tk" x="355.58" y="615.6" text-anchor="middle">0.9</text>
<text class="tk" transform="translate(263.4,512.22) rotate(-90)" text-anchor="middle">0.9</text>
<text class="tk" x="382.34" y="615.6" text-anchor="middle">1.2</text>
<text class="tk" transform="translate(263.4,485.46) rotate(-90)" text-anchor="middle">1.2</text>
<text class="tk" x="409.1" y="615.6" text-anchor="middle">1.5</text>
<text class="tk" transform="translate(263.4,458.7) rotate(-90)" text-anchor="middle">1.5</text>
<text class="tk" x="435.86" y="615.6" text-anchor="middle">1.8</text>
<text class="tk" transform="translate(263.4,431.94) rotate(-90)" text-anchor="middle">1.8</text>
<circle cx="399.1" cy="476.5" r="2.65" fill="#e2d5b4" stroke="#111" stroke-width="1.1"/>
<circle cx="366.9" cy="501.5" r="2.65" fill="#e2d5b4" stroke="#111" stroke-width="1.1"/>
<circle cx="359.7" cy="503.3" r="2.65" fill="#e2d5b4" stroke="#111" stroke-width="1.1"/>
<circle cx="374.6" cy="536.2" r="2.65" fill="#e2d5b4" stroke="#111" stroke-width="1.1"/>
<circle cx="320.9" cy="548.5" r="2.65" fill="#e2d5b4" stroke="#111" stroke-width="1.1"/>
<circle cx="396.8" cy="472.4" r="2.65" fill="#597689" stroke="#111" stroke-width="1.1"/>
<circle cx="416.9" cy="450.8" r="2.65" fill="#597689" stroke="#111" stroke-width="1.1"/>
<circle cx="397.3" cy="468.6" r="2.65" fill="#597689" stroke="#111" stroke-width="1.1"/>
<circle cx="394.4" cy="474.5" r="2.65" fill="#597689" stroke="#111" stroke-width="1.1"/>
<circle cx="397.2" cy="479.6" r="2.65" fill="#597689" stroke="#111" stroke-width="1.1"/>
<circle cx="387.1" cy="475.4" r="2.65" fill="#597689" stroke="#111" stroke-width="1.1"/>
<circle cx="387.1" cy="479.7" r="2.65" fill="#597689" stroke="#111" stroke-width="1.1"/>
<circle cx="387.8" cy="488.8" r="2.65" fill="#597689" stroke="#111" stroke-width="1.1"/>
<circle cx="392.6" cy="489.1" r="2.65" fill="#597689" stroke="#111" stroke-width="1.1"/>
<circle cx="378.6" cy="472.3" r="2.65" fill="#597689" stroke="#111" stroke-width="1.1"/>
<circle cx="354.6" cy="487.8" r="2.65" fill="#597689" stroke="#111" stroke-width="1.1"/>
<circle cx="370.9" cy="486.6" r="2.65" fill="#597689" stroke="#111" stroke-width="1.1"/>
<circle cx="380.3" cy="485.4" r="2.65" fill="#597689" stroke="#111" stroke-width="1.1"/>
<circle cx="421.1" cy="465.5" r="2.65" fill="#e2d5b4" stroke="#111" stroke-width="1.1"/>
<circle cx="403.1" cy="471.4" r="2.65" fill="#e2d5b4" stroke="#111" stroke-width="1.1"/>
<circle cx="398.2" cy="492.9" r="2.65" fill="#e2d5b4" stroke="#111" stroke-width="1.1"/>
<circle cx="370.7" cy="494.4" r="2.65" fill="#e2d5b4" stroke="#111" stroke-width="1.1"/>
<circle cx="359.1" cy="489" r="2.65" fill="#e2d5b4" stroke="#111" stroke-width="1.1"/>
<circle cx="364.6" cy="486.4" r="2.65" fill="#e2d5b4" stroke="#111" stroke-width="1.1"/>
<circle cx="373.1" cy="512.9" r="2.65" fill="#e2d5b4" stroke="#111" stroke-width="1.1"/>
<circle cx="380.9" cy="513.8" r="2.65" fill="#e2d5b4" stroke="#111" stroke-width="1.1"/>
<circle cx="372.8" cy="518.9" r="2.65" fill="#e2d5b4" stroke="#111" stroke-width="1.1"/>
<circle cx="353.8" cy="518.2" r="2.65" fill="#e2d5b4" stroke="#111" stroke-width="1.1"/>
<circle cx="348.7" cy="520.9" r="2.65" fill="#e2d5b4" stroke="#111" stroke-width="1.1"/>
<circle cx="333.6" cy="516.3" r="2.65" fill="#e2d5b4" stroke="#111" stroke-width="1.1"/>
<circle cx="338.9" cy="527.2" r="2.65" fill="#e2d5b4" stroke="#111" stroke-width="1.1"/>
<circle cx="344" cy="528.8" r="2.65" fill="#e2d5b4" stroke="#111" stroke-width="1.1"/>
<circle cx="349.1" cy="529.1" r="2.65" fill="#e2d5b4" stroke="#111" stroke-width="1.1"/>
<circle cx="357.8" cy="528.4" r="2.65" fill="#e2d5b4" stroke="#111" stroke-width="1.1"/>
<circle cx="357" cy="532.7" r="2.65" fill="#e2d5b4" stroke="#111" stroke-width="1.1"/>
<circle cx="364.7" cy="531.9" r="2.65" fill="#e2d5b4" stroke="#111" stroke-width="1.1"/>
<circle cx="328" cy="530.6" r="2.65" fill="#e2d5b4" stroke="#111" stroke-width="1.1"/>
<circle cx="328.8" cy="536.7" r="2.65" fill="#e2d5b4" stroke="#111" stroke-width="1.1"/>
<circle cx="327.3" cy="541" r="2.65" fill="#e2d5b4" stroke="#111" stroke-width="1.1"/>
<circle cx="322.6" cy="546.9" r="2.65" fill="#e2d5b4" stroke="#111" stroke-width="1.1"/>
<circle cx="355.1" cy="551.1" r="2.65" fill="#e2d5b4" stroke="#111" stroke-width="1.1"/>
<circle cx="306.1" cy="568.3" r="2.65" fill="#e2d5b4" stroke="#111" stroke-width="1.1"/>
<circle cx="364.4" cy="498.1" r="2.65" fill="#597689" stroke="#111" stroke-width="1.1"/>
<circle cx="361.8" cy="500.9" r="2.65" fill="#597689" stroke="#111" stroke-width="1.1"/>
<circle cx="367.6" cy="504.6" r="2.65" fill="#597689" stroke="#111" stroke-width="1.1"/>
<circle cx="360.1" cy="507.7" r="2.65" fill="#597689" stroke="#111" stroke-width="1.1"/>
<circle cx="376" cy="502.8" r="2.65" fill="#597689" stroke="#111" stroke-width="1.1"/>
<circle cx="356.6" cy="513.4" r="2.65" fill="#597689" stroke="#111" stroke-width="1.1"/>
<circle cx="364" cy="515.6" r="2.65" fill="#597689" stroke="#111" stroke-width="1.1"/>
<circle cx="364.8" cy="526" r="2.65" fill="#597689" stroke="#111" stroke-width="1.1"/>
<circle cx="366.8" cy="527.6" r="2.65" fill="#597689" stroke="#111" stroke-width="1.1"/>
<circle cx="351" cy="537" r="2.65" fill="#597689" stroke="#111" stroke-width="1.1"/>
<circle cx="362.6" cy="539" r="2.65" fill="#597689" stroke="#111" stroke-width="1.1"/>
<circle cx="375.4" cy="532.7" r="2.65" fill="#597689" stroke="#111" stroke-width="1.1"/>
<circle cx="372.2" cy="539" r="2.65" fill="#597689" stroke="#111" stroke-width="1.1"/>
<line x1="268.5" y1="595.1" x2="451.7" y2="433.7" stroke="#cd2630" stroke-width="1.6" stroke-dasharray="5.28 3.83"/>
<rect x="369.4" y="562.1" width="82.3" height="37.2" fill="#fff" stroke="#111" stroke-width="1.2"/>
<circle cx="378.6" cy="574.3" r="2.3" fill="#e2d5b4" stroke="#111" stroke-width="0.9"/>
<circle cx="378.6" cy="587.1" r="2.3" fill="#597689" stroke="#111" stroke-width="0.9"/>
<text class="lg" x="387.6" y="577.6">OP (<tspan font-style="italic">N</tspan> = 33)</text>
<text class="lg" x="387.6" y="590.1">CO (<tspan font-style="italic">N</tspan> = 26)</text>
<text class="st" x="280.1" y="436.1"><tspan font-style="italic">r</tspan><tspan font-style="italic" font-size="8" dy="2.3">s</tspan><tspan dy="-2.3"> = 0.738</tspan></text>
<text class="st" x="280.1" y="453">p &lt; 0.001</text>
<text class="st" x="280.1" y="471.4">MAE = 0.135</text>
<rect x="268.5" y="416.6" width="183.2" height="182.7" fill="none" stroke="#444" stroke-width="1.1"/>
<text class="t" x="586.6" y="407.3" text-anchor="middle">EXP vs CFT</text>
<text class="al" transform="translate(470.4,507.95) rotate(-90)" text-anchor="middle">EXP GJ [Nm<tspan dy="-6.4" dx="0.6" font-size="8.3">2</tspan><tspan dy="6.4"> </tspan><tspan font-size="17.5" dy="1.7" dx="-2.2" fill-opacity="0.72">/</tspan><tspan dy="-1.7" dx="0.5">°]</tspan></text>
<text class="al" x="586.6" y="629" text-anchor="middle">CFT VTR [Nm<tspan dy="-6.4" dx="0.6" font-size="8.3">2</tspan><tspan dy="6.4"> </tspan><tspan font-size="17.5" dy="1.7" dx="-0.9" fill-opacity="0.72">/</tspan><tspan dy="-1.7" dx="0.5">°]</tspan></text>
<path d="M501.8 599.3V602.8M495 592.5H491.5M528.56 599.3V602.8M495 565.74H491.5M555.32 599.3V602.8M495 538.98H491.5M582.08 599.3V602.8M495 512.22H491.5M608.84 599.3V602.8M495 485.46H491.5M635.6 599.3V602.8M495 458.7H491.5M662.36 599.3V602.8M495 431.94H491.5" stroke="#333" stroke-width="1" fill="none"/>
<text class="tk" x="501.8" y="615.6" text-anchor="middle">0.0</text>
<text class="tk" transform="translate(489.9,592.5) rotate(-90)" text-anchor="middle">0.0</text>
<text class="tk" x="528.56" y="615.6" text-anchor="middle">0.3</text>
<text class="tk" transform="translate(489.9,565.74) rotate(-90)" text-anchor="middle">0.3</text>
<text class="tk" x="555.32" y="615.6" text-anchor="middle">0.6</text>
<text class="tk" transform="translate(489.9,538.98) rotate(-90)" text-anchor="middle">0.6</text>
<text class="tk" x="582.08" y="615.6" text-anchor="middle">0.9</text>
<text class="tk" transform="translate(489.9,512.22) rotate(-90)" text-anchor="middle">0.9</text>
<text class="tk" x="608.84" y="615.6" text-anchor="middle">1.2</text>
<text class="tk" transform="translate(489.9,485.46) rotate(-90)" text-anchor="middle">1.2</text>
<text class="tk" x="635.6" y="615.6" text-anchor="middle">1.5</text>
<text class="tk" transform="translate(489.9,458.7) rotate(-90)" text-anchor="middle">1.5</text>
<text class="tk" x="662.36" y="615.6" text-anchor="middle">1.8</text>
<text class="tk" transform="translate(489.9,431.94) rotate(-90)" text-anchor="middle">1.8</text>
<circle cx="586" cy="503.1" r="2.65" fill="#e2d5b4" stroke="#111" stroke-width="1.1"/>
<circle cx="592.3" cy="500.9" r="2.65" fill="#e2d5b4" stroke="#111" stroke-width="1.1"/>
<circle cx="585.3" cy="489.3" r="2.65" fill="#e2d5b4" stroke="#111" stroke-width="1.1"/>
<circle cx="571" cy="528" r="2.65" fill="#e2d5b4" stroke="#111" stroke-width="1.1"/>
<circle cx="591.8" cy="531.1" r="2.65" fill="#e2d5b4" stroke="#111" stroke-width="1.1"/>
<circle cx="554.6" cy="536.4" r="2.65" fill="#e2d5b4" stroke="#111" stroke-width="1.1"/>
<circle cx="547.1" cy="549" r="2.65" fill="#e2d5b4" stroke="#111" stroke-width="1.1"/>
<circle cx="637.7" cy="450.8" r="2.65" fill="#597689" stroke="#111" stroke-width="1.1"/>
<circle cx="622.1" cy="468.6" r="2.65" fill="#597689" stroke="#111" stroke-width="1.1"/>
<circle cx="616" cy="473" r="2.65" fill="#597689" stroke="#111" stroke-width="1.1"/>
<circle cx="611.6" cy="475.6" r="2.65" fill="#597689" stroke="#111" stroke-width="1.1"/>
<circle cx="608.5" cy="479.9" r="2.65" fill="#597689" stroke="#111" stroke-width="1.1"/>
<circle cx="617.2" cy="479.3" r="2.65" fill="#597689" stroke="#111" stroke-width="1.1"/>
<circle cx="621.9" cy="474.9" r="2.65" fill="#597689" stroke="#111" stroke-width="1.1"/>
<circle cx="608.2" cy="488.7" r="2.65" fill="#597689" stroke="#111" stroke-width="1.1"/>
<circle cx="612.4" cy="488.9" r="2.65" fill="#597689" stroke="#111" stroke-width="1.1"/>
<circle cx="595.9" cy="472.2" r="2.65" fill="#597689" stroke="#111" stroke-width="1.1"/>
<circle cx="578.6" cy="487.8" r="2.65" fill="#597689" stroke="#111" stroke-width="1.1"/>
<circle cx="584" cy="486.6" r="2.65" fill="#597689" stroke="#111" stroke-width="1.1"/>
<circle cx="601.5" cy="485.4" r="2.65" fill="#597689" stroke="#111" stroke-width="1.1"/>
<circle cx="573.3" cy="498.6" r="2.65" fill="#597689" stroke="#111" stroke-width="1.1"/>
<circle cx="569.3" cy="500.9" r="2.65" fill="#597689" stroke="#111" stroke-width="1.1"/>
<circle cx="647.4" cy="465.5" r="2.65" fill="#e2d5b4" stroke="#111" stroke-width="1.1"/>
<circle cx="629.5" cy="471.4" r="2.65" fill="#e2d5b4" stroke="#111" stroke-width="1.1"/>
<circle cx="625.6" cy="478.1" r="2.65" fill="#e2d5b4" stroke="#111" stroke-width="1.1"/>
<circle cx="624.5" cy="493" r="2.65" fill="#e2d5b4" stroke="#111" stroke-width="1.1"/>
<circle cx="596.9" cy="495" r="2.65" fill="#e2d5b4" stroke="#111" stroke-width="1.1"/>
<circle cx="595.1" cy="504.6" r="2.65" fill="#e2d5b4" stroke="#111" stroke-width="1.1"/>
<circle cx="591.4" cy="486.6" r="2.65" fill="#e2d5b4" stroke="#111" stroke-width="1.1"/>
<circle cx="599.2" cy="512.7" r="2.65" fill="#e2d5b4" stroke="#111" stroke-width="1.1"/>
<circle cx="607.2" cy="514" r="2.65" fill="#e2d5b4" stroke="#111" stroke-width="1.1"/>
<circle cx="599.2" cy="519.2" r="2.65" fill="#e2d5b4" stroke="#111" stroke-width="1.1"/>
<circle cx="580.1" cy="518.6" r="2.65" fill="#e2d5b4" stroke="#111" stroke-width="1.1"/>
<circle cx="575" cy="521" r="2.65" fill="#e2d5b4" stroke="#111" stroke-width="1.1"/>
<circle cx="560.2" cy="516.4" r="2.65" fill="#e2d5b4" stroke="#111" stroke-width="1.1"/>
<circle cx="564.7" cy="526.8" r="2.65" fill="#e2d5b4" stroke="#111" stroke-width="1.1"/>
<circle cx="575.3" cy="529.1" r="2.65" fill="#e2d5b4" stroke="#111" stroke-width="1.1"/>
<circle cx="584.3" cy="528" r="2.65" fill="#e2d5b4" stroke="#111" stroke-width="1.1"/>
<circle cx="582.8" cy="532.3" r="2.65" fill="#e2d5b4" stroke="#111" stroke-width="1.1"/>
<circle cx="600" cy="537.1" r="2.65" fill="#e2d5b4" stroke="#111" stroke-width="1.1"/>
<circle cx="554.1" cy="530.5" r="2.65" fill="#e2d5b4" stroke="#111" stroke-width="1.1"/>
<circle cx="553.9" cy="541.1" r="2.65" fill="#e2d5b4" stroke="#111" stroke-width="1.1"/>
<circle cx="549.4" cy="546.8" r="2.65" fill="#e2d5b4" stroke="#111" stroke-width="1.1"/>
<circle cx="581.6" cy="551" r="2.65" fill="#e2d5b4" stroke="#111" stroke-width="1.1"/>
<circle cx="532.6" cy="568.3" r="2.65" fill="#e2d5b4" stroke="#111" stroke-width="1.1"/>
<circle cx="590.8" cy="504.8" r="2.65" fill="#597689" stroke="#111" stroke-width="1.1"/>
<circle cx="582.9" cy="507.6" r="2.65" fill="#597689" stroke="#111" stroke-width="1.1"/>
<circle cx="599.7" cy="502.7" r="2.65" fill="#597689" stroke="#111" stroke-width="1.1"/>
<circle cx="579.6" cy="512.9" r="2.65" fill="#597689" stroke="#111" stroke-width="1.1"/>
<circle cx="577.9" cy="515" r="2.65" fill="#597689" stroke="#111" stroke-width="1.1"/>
<circle cx="569" cy="526" r="2.65" fill="#597689" stroke="#111" stroke-width="1.1"/>
<circle cx="581" cy="527.6" r="2.65" fill="#597689" stroke="#111" stroke-width="1.1"/>
<circle cx="589.8" cy="533" r="2.65" fill="#597689" stroke="#111" stroke-width="1.1"/>
<circle cx="590.2" cy="539" r="2.65" fill="#597689" stroke="#111" stroke-width="1.1"/>
<circle cx="578.1" cy="538.9" r="2.65" fill="#597689" stroke="#111" stroke-width="1.1"/>
<circle cx="558.1" cy="537" r="2.65" fill="#597689" stroke="#111" stroke-width="1.1"/>
<line x1="495" y1="581.3" x2="678.2" y2="433.6" stroke="#cd2630" stroke-width="1.6" stroke-dasharray="5.57 4.03"/>
<rect x="595.5" y="562.1" width="82.7" height="37.2" fill="#fff" stroke="#111" stroke-width="1.2"/>
<circle cx="604.7" cy="574.3" r="2.3" fill="#e2d5b4" stroke="#111" stroke-width="0.9"/>
<circle cx="604.7" cy="587.1" r="2.3" fill="#597689" stroke="#111" stroke-width="0.9"/>
<text class="lg" x="613.7" y="577.6">OP (<tspan font-style="italic">N</tspan> = 33)</text>
<text class="lg" x="613.7" y="590.1">CO (<tspan font-style="italic">N</tspan> = 26)</text>
<text class="st" x="506.6" y="436.1"><tspan font-style="italic">r</tspan><tspan font-style="italic" font-size="8" dy="2.3">s</tspan><tspan dy="-2.3"> = 0.763</tspan></text>
<text class="st" x="506.6" y="453">p &lt; 0.001</text>
<text class="st" x="506.6" y="471.4">MAE = 0.139</text>
<rect x="495" y="416.6" width="183.2" height="182.7" fill="none" stroke="#444" stroke-width="1.1"/>
<path d="M197.9 61.3V18M197.9 61.3H240.5" stroke="#333" stroke-width="1.4" fill="none"/>
<path d="M197.9 11.2L194.3 18.8H201.5Z" fill="#333"/>
<path d="M246.8 61.3L239.8 57.7V64.9Z" fill="#333"/>
<text x="182.2" y="19.5" font-family="Liberation Serif" font-weight="bold" font-style="italic" font-size="17" fill="#1a1a1a">E</text>
<text x="249" y="64.3" font-family="Liberation Serif" font-weight="bold" font-style="italic" font-size="17.5" fill="#222">ρ</text>
<path d="M197.9 56.2L239.8 17.8" stroke="#333" stroke-width="1.3" fill="none"/>
<text class="hd" x="259.3" y="45.2">Single Zone Material Model</text>
<path d="M198.4 382.9V339.6M198.4 382.9H240.5" stroke="#333" stroke-width="1.4" fill="none"/>
<path d="M198.4 332.8L194.8 340.4H202.0Z" fill="#333"/>
<path d="M246.8 382.9L239.8 379.3V386.5Z" fill="#333"/>
<text x="182.2" y="342.2" font-family="Liberation Serif" font-weight="bold" font-style="italic" font-size="17" fill="#1a1a1a">E</text>
<text x="249" y="385.9" font-family="Liberation Serif" font-weight="bold" font-style="italic" font-size="17.5" fill="#222">ρ</text>
<path d="M198.4 373.2H222.8" stroke="#333" stroke-width="1.3" fill="none"/>
<path d="M222.8 373.2V358.9" stroke="#333" stroke-width="1.3" stroke-dasharray="4.2 2.2 2.8 2.2 3" fill="none"/>
<path d="M222.8 358.9L243.7 339.6" stroke="#333" stroke-width="1.3" fill="none"/>
<text class="hd" x="265.8" y="364.6">Dual Zone Material Model</text>
<path d="M0.8 0V637M0 0.8H685M684 0V637M0 636H685" stroke="#5a5a5a" stroke-width="1.8" fill="none"/>
<path d="M0 322.4H685" stroke="#333" stroke-width="1.1" fill="none"/>
<rect x="0.8" y="0.8" width="31.4" height="31.2" fill="#e6e6e6" stroke="#444" stroke-width="1.5"/>
<text transform="translate(16.2,23.5) scale(0.88,1)" text-anchor="middle" font-weight="bold" font-size="19" fill="#111">a</text>
<rect x="0.8" y="322.4" width="31.2" height="30.9" fill="#e6e6e6" stroke="#444" stroke-width="1.5"/>
<text transform="translate(16.4,344.6) scale(0.88,1)" text-anchor="middle" font-weight="bold" font-size="19" fill="#111">b</text>
</svg></body></html>
